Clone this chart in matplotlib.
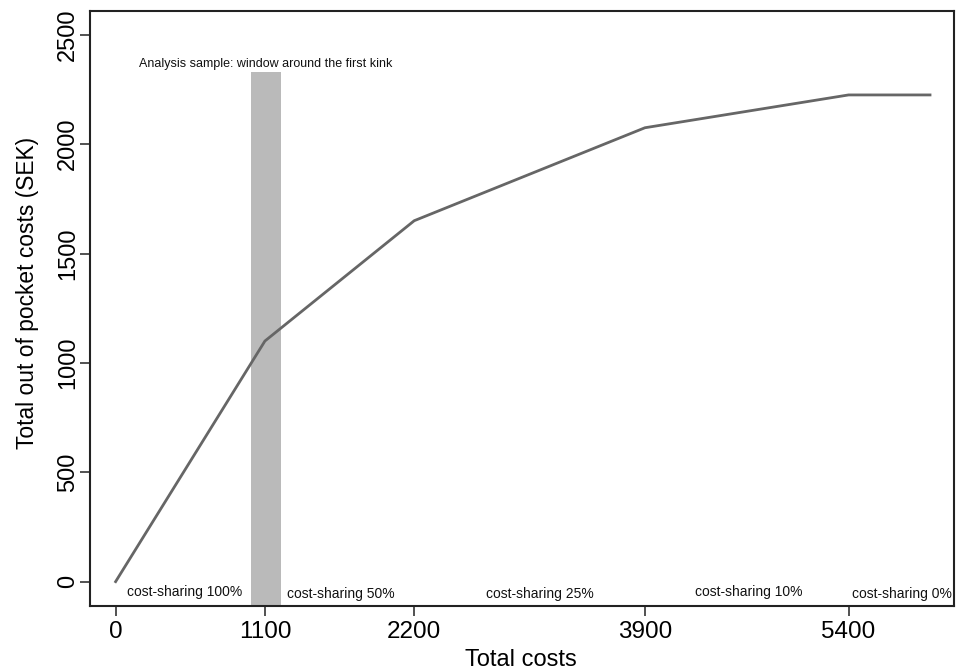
import matplotlib
matplotlib.use("Agg")
import matplotlib.pyplot as plt

# Data
total_costs = [0, 1100, 2200, 3900, 5400, 6000]
out_of_pocket = [0, 1100, 1650, 2075, 2225, 2225]
xticks = [0, 1100, 2200, 3900, 5400]
yticks = [0, 500, 1000, 1500, 2000, 2500]
band = (1000, 1220)
band_top = 2332
segment_labels = ["cost-sharing 100%", "cost-sharing 50%", "cost-sharing 25%",
                  "cost-sharing 10%", "cost-sharing 0%"]
segment_label_x = [81, 1262, 2729, 4268, 5425]
segment_label_y = [-47, -56, -56, -47, -56]

plt.rcParams['font.family'] = ['Liberation Sans', 'DejaVu Sans']

fig = plt.figure(figsize=(9.57, 6.71), dpi=100)
ax = fig.add_axes([0.094, 0.097, 0.9029, 0.8867])

ax.fill_between([band[0], band[1]], [-111, -111], [band_top, band_top],
                color='#bababa', linewidth=0, zorder=1)
ax.text(171, 2367, "Analysis sample: window around the first kink",
        fontsize=9, ha='left', va='center', color='#111111')

ax.plot(total_costs, out_of_pocket, color='#666666', linewidth=2, zorder=3)

for lab, lx, ly in zip(segment_labels, segment_label_x, segment_label_y):
    ax.text(lx, ly, lab, fontsize=10, ha='left', va='center', color='#111111')

ax.set_xlim(-189, 6177)
ax.set_ylim(-111, 2609)
ax.set_xticks(xticks)
ax.set_yticks(yticks)
ax.set_xticklabels([str(v) for v in xticks], fontsize=17.5)
ax.set_yticklabels([str(v) for v in yticks], fontsize=17, rotation=90, va='center')
ax.tick_params(axis='both', length=7, width=1.2, color='#333333')
ax.tick_params(axis='x', pad=4)
ax.tick_params(axis='y', pad=1)
for s in ax.spines.values():
    s.set_linewidth(1.5)
    s.set_color('#222222')

ax.set_xlabel("Total costs", fontsize=17)
ax.xaxis.set_label_coords(0.4985, -0.073)
ax.set_ylabel("Total out of pocket costs (SEK)", fontsize=16.4)
ax.yaxis.set_label_coords(-0.059, 0.526)

fig.savefig("out.png", dpi=100)
